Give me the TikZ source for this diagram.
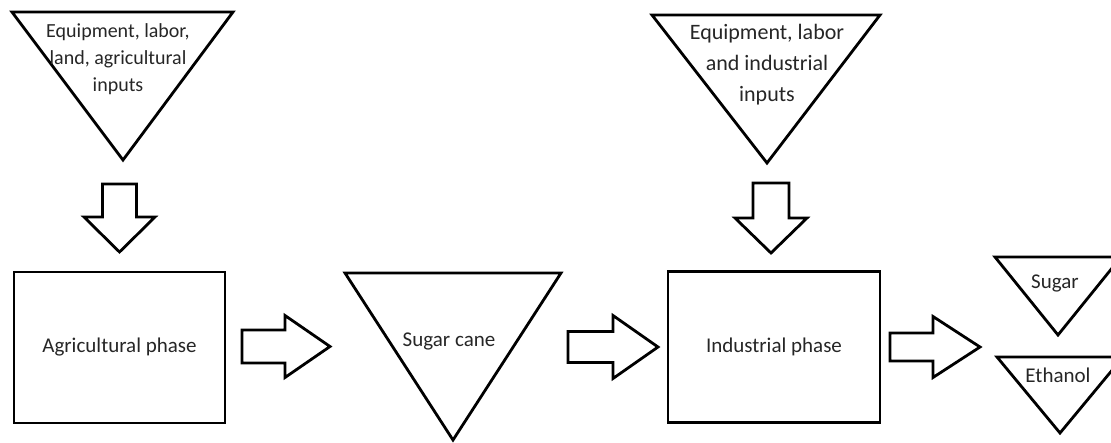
\documentclass[tikz,border=0pt]{standalone}
\usepackage{fontspec}
\setmainfont{Carlito}
\begin{document}
\begin{tikzpicture}[x=1pt,y=-1pt,
  outline/.style={draw=black, line width=2.8pt, line join=miter},
  label/.style={text=black!85, align=center, inner sep=0pt},
  txt/.style={label, font=\fontsize{21}{26}\selectfont},
  phasebox/.style={outline, rectangle, minimum width=#1, minimum height=151pt, inner sep=0pt},
  pics/fatarrow/.style n args={4}{code={
    % #1 shaft length, #2 total length, #3 half shaft width, #4 half head width
    \draw[outline] (0,-#3) -- (#1,-#3) -- (#1,-#4) -- (#2,0) -- (#1,#4) -- (#1,#3) -- (0,#3) -- cycle;
  }}]
\useasboundingbox (0,0) rectangle (1111,442);
\clip (0,0) rectangle (1111,442);

% inputs of the agricultural phase
\draw[outline] (12,12) -- (233,12) -- (123,160) -- cycle;
\node[label, font=\fontsize{20}{27}\selectfont] (aginputs) at (118,59)
  {Equipment, labor,\\land, agricultural\\inputs};

% inputs of the industrial phase
\draw[outline] (652,15) -- (880,15) -- (767,163) -- cycle;
\node[label, font=\fontsize{22}{31}\selectfont] (indinputs) at (767,65)
  {Equipment, labor\\and industrial\\inputs};

% the two phases
\node[phasebox=211pt] (agri) at (119.5,347.5) {};
\node[txt] (agritxt) at (agri.center) {Agricultural phase};
\node[phasebox=212pt] (ind) at (774,347) {};
\node[txt] (indtxt) at (ind.center) {Industrial phase};

% intermediate product
\draw[outline] (345,273) -- (561,273) -- (453,440) -- cycle;
\node[txt] (cane) at (449,341) {Sugar cane};

% final products
\draw[outline] (995,257) -- (1121,257) -- (1058,335) -- cycle;
\node[txt] (sugar) at (1055,283) {Sugar};
\draw[outline] (997,357) -- (1123,357) -- (1060,433) -- cycle;
\node[txt] (ethanol) at (1058,375) {Ethanol};

% block arrows of the flow
\pic[rotate=-90] at (119.5,184) {fatarrow={33}{68}{17}{35.5}};
\pic[rotate=-90] at (771,183) {fatarrow={35}{70}{18}{36}};
\pic at (242,346.5) {fatarrow={43}{88}{16.5}{31}};
\pic at (568,347) {fatarrow={45}{90}{15.5}{31.5}};
\pic at (890,347) {fatarrow={43}{90}{14}{30.5}};
\end{tikzpicture}
\end{document}
